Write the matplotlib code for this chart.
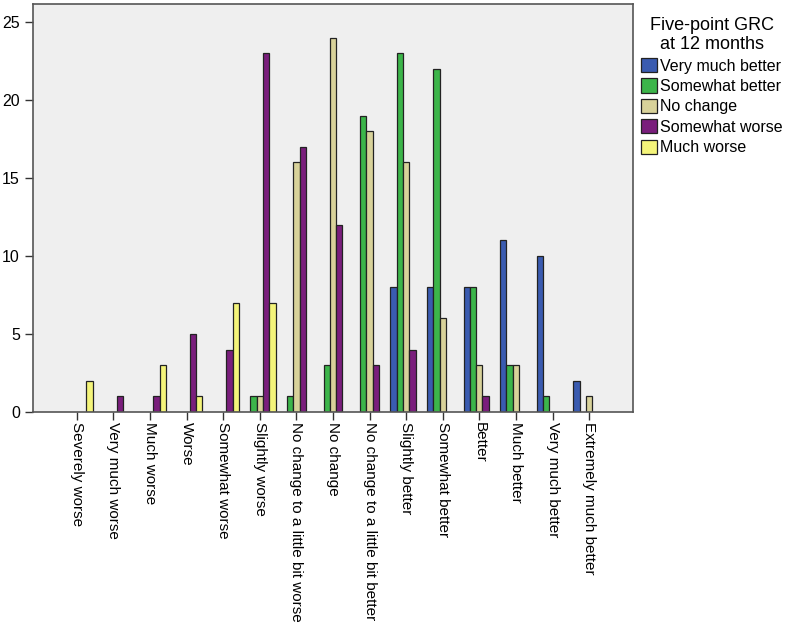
import numpy as np
import matplotlib.pyplot as plt

plt.rcParams['font.family'] = ['Liberation Sans', 'DejaVu Sans']

categories = ['Severely worse', 'Very much worse', 'Much worse', 'Worse', 'Somewhat worse',
              'Slightly worse', 'No change to a little bit worse', 'No change',
              'No change to a little bit better', 'Slightly better', 'Somewhat better',
              'Better', 'Much better', 'Very much better', 'Extremely much better']

series_names = ['Very much better', 'Somewhat better', 'No change', 'Somewhat worse', 'Much worse']

very_much_better = [0, 0, 0, 0, 0, 0, 0, 0, 0, 8, 8, 8, 11, 10, 2]
somewhat_better = [0, 0, 0, 0, 0, 1, 1, 3, 19, 23, 22, 8, 3, 1, 0]
no_change = [0, 0, 0, 0, 0, 1, 16, 24, 18, 16, 6, 3, 3, 0, 1]
somewhat_worse = [0, 1, 1, 5, 4, 23, 17, 12, 3, 4, 0, 1, 0, 0, 0]
much_worse = [2, 0, 3, 1, 7, 7, 0, 0, 0, 0, 0, 0, 0, 0, 0]

colors = ['#3a5bb0', '#3cb54a', '#d8d29a', '#7a1e7c', '#f4f47a']

fig = plt.figure(figsize=(7.87, 6.33), dpi=100)
ax = fig.add_axes([33 / 787, 1 - 412 / 633, 600 / 787, 408 / 633])
ax.set_facecolor('#efefef')

x = np.arange(len(categories))
width = 0.172
all_series = [very_much_better, somewhat_better, no_change, somewhat_worse, much_worse]
for i, (vals, name, col) in enumerate(zip(all_series, series_names, colors)):
    offs = (i - 2) * width
    v = np.array(vals)
    mask = v > 0
    ax.bar(x[mask] + offs, v[mask], width, color=col, edgecolor='#222222',
           linewidth=0.9, label=name)

ax.set_xlim(-1.2, 15.2)
ax.set_ylim(0, 26.15)
ax.set_yticks([0, 5, 10, 15, 20, 25])
ax.set_xticks(x)
ax.set_xticklabels(categories, rotation=270, va='top', ha='center')
ax.tick_params(axis='both', direction='out', length=6, width=1, colors='#333333',
               labelcolor='black', labelsize=11.5)
ax.tick_params(axis='x', labelsize=11, pad=1.5)
for s in ax.spines.values():
    s.set_color('#555555')
    s.set_linewidth(1.2)

leg = ax.legend(loc='upper left', bbox_to_anchor=(1.003, 0.985), frameon=False,
                fontsize=11.5, handlelength=1.0, handleheight=1.0, handletextpad=0.2,
                labelspacing=0.3, borderaxespad=0.2, borderpad=0.2,
                title='Five-point GRC\nat 12 months', title_fontsize=13)
leg.get_title().set_multialignment('center')

fig.savefig('out.png', dpi=100)
